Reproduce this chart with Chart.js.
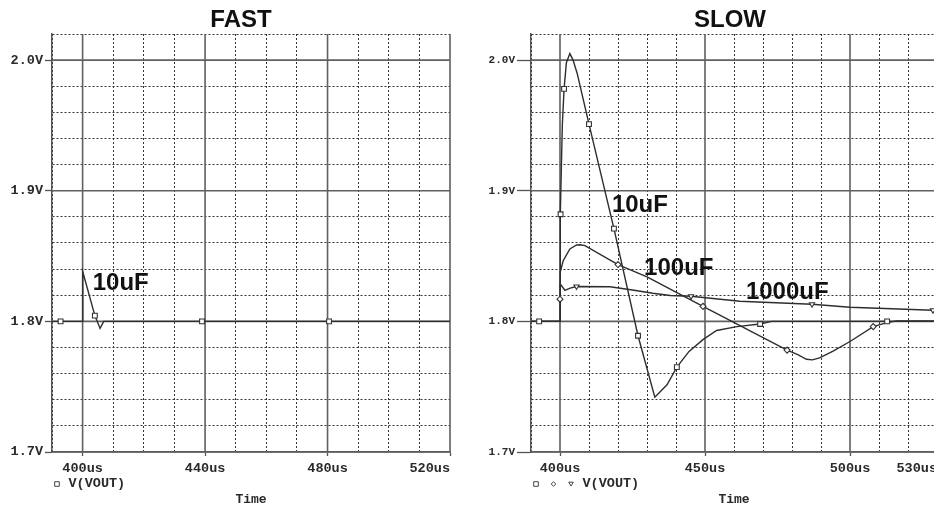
<!DOCTYPE html>
<html>
<head>
<meta charset="utf-8">
<title>FAST / SLOW</title>
<script src="https://cdn.jsdelivr.net/npm/chart.js@4.4.1/dist/chart.umd.min.js"></script>
<style>
  html, body { margin: 0; padding: 0; background: #fff; overflow: hidden; width: 934px; height: 506px; }
  canvas { position: absolute; top: 0; }
  #fastChart { left: 0; }
  #slowChart { left: 467px; }
</style>
</head>
<body>
<canvas id="fastChart" width="482" height="506"></canvas>
<canvas id="slowChart" width="526" height="506"></canvas>
<script>
// V(VOUT) traces, [time in us, volts]
const fast10uF = [[390, 1.8], [400, 1.8], [400.05, 1.838], [404.0, 1.8044], [405.7, 1.7946], [406.9, 1.8], [408.5, 1.8], [520, 1.8]];
const fast10uFMarks = [[392.8, 1.8], [404.0, 1.8044], [439.0, 1.8], [480.5, 1.8]];

const slow10uF = [[390, 1.8], [400, 1.8], [400.1, 1.882], [400.8, 1.95], [401.4, 1.978], [402.2, 1.998], [403.4, 2.005],
  [404.5, 2.0], [405.9, 1.99], [410, 1.951], [418.6, 1.871], [426.9, 1.789], [432.7, 1.742], [436.9, 1.7515],
  [440.3, 1.765], [444.5, 1.777], [449.3, 1.786], [454, 1.793], [461, 1.796], [469, 1.798], [473, 1.8], [531, 1.8]];
const slow10uFMarks = [[392.8, 1.8], [400.2, 1.882], [401.4, 1.978], [410, 1.951], [418.6, 1.871], [426.9, 1.789], [440.3, 1.765], [469, 1.798], [512.8, 1.8]];

const slow100uF = [[390, 1.8], [400, 1.8], [400.1, 1.838], [401.1, 1.8464], [403.4, 1.8554], [405.7, 1.8585], [406.9, 1.8587],
  [408.6, 1.858], [420, 1.8435], [430, 1.834], [449.3, 1.8115], [478.3, 1.778], [482, 1.7745], [485, 1.771],
  [487, 1.7705], [489.5, 1.772], [494, 1.777], [500, 1.7846], [508, 1.796], [513, 1.7992], [516, 1.8003], [531, 1.8003]];
const slow100uFMarks = [[400, 1.817], [420, 1.8435], [449.3, 1.8115], [478.3, 1.778], [508, 1.796]];

const slow1000uF = [[390, 1.8], [400, 1.8], [400.1, 1.8285], [401.7, 1.8238], [403.5, 1.8255], [405.7, 1.8267], [417.2, 1.8265],
  [425, 1.824], [432, 1.8215], [438, 1.8198], [445.2, 1.8192], [462, 1.8154], [486.9, 1.8131], [500, 1.8108], [528.6, 1.8085], [531, 1.8083]];
const slow1000uFMarks = [[405.7, 1.8267], [445.2, 1.8192], [486.9, 1.8131], [528.6, 1.8085]];

// axes
const yMajor = [1.7, 1.8, 1.9, 2.0];
const fastXMajor = [400, 440, 480, 520];
const fastXLabels = [400, 440, 480, 520];
const slowXMajor = [400, 450, 500];
const slowXLabels = [400, 450, 500, 530];

// curve names written on the plot: [text, time, volts]
const fastNotes = [['10uF', 403.3, 1.8238]];
const slowNotes = [['10uF', 417.9, 1.8838], ['100uF', 429.0, 1.8354], ['1000uF', 464.1, 1.8169]];

const MONO = '"Liberation Mono", "DejaVu Sans Mono", monospace';
const SANS = '"Liberation Sans", Arial, sans-serif';
const INK = '#2a2a2a';

const toXY = arr => arr.map(p => ({ x: p[0], y: p[1] }));
const isIn = (list, v) => list.some(m => Math.abs(m - v) < 1e-6);

function drawMarker(ctx, style, x, y, r) {
  ctx.beginPath();
  if (style === 'rect') {
    ctx.rect(x - r, y - r, 2 * r, 2 * r);
  } else if (style === 'rectRot') {
    ctx.moveTo(x, y - r); ctx.lineTo(x + r, y); ctx.lineTo(x, y + r); ctx.lineTo(x - r, y); ctx.closePath();
  } else {
    ctx.moveTo(x - r, y - r * 0.8); ctx.lineTo(x + r, y - r * 0.8); ctx.lineTo(x, y + r * 0.9); ctx.closePath();
  }
  ctx.fill();
  ctx.stroke();
}

// solid major grid lines
const majorGrid = {
  id: 'majorGrid',
  beforeDatasetsDraw(chart, args, opts) {
    const { ctx, chartArea: a, scales: { x, y } } = chart;
    ctx.save();
    ctx.strokeStyle = '#606060';
    ctx.lineWidth = 1.6;
    ctx.beginPath();
    opts.xMajor.forEach(v => {
      const p = x.getPixelForValue(v);
      ctx.moveTo(p, a.top); ctx.lineTo(p, a.bottom);
    });
    yMajor.forEach(v => {
      const p = y.getPixelForValue(v);
      ctx.moveTo(a.left, p); ctx.lineTo(a.right, p);
    });
    ctx.stroke();
    ctx.restore();
  }
};

const curveNotes = {
  id: 'curveNotes',
  afterDatasetsDraw(chart, args, opts) {
    const { ctx, scales: { x, y } } = chart;
    ctx.save();
    ctx.fillStyle = '#111';
    ctx.font = 'bold 24px ' + SANS;
    ctx.textAlign = 'left';
    ctx.textBaseline = 'alphabetic';
    opts.notes.forEach(n => ctx.fillText(n[0], x.getPixelForValue(n[1]), y.getPixelForValue(n[2])));
    ctx.restore();
  }
};

const panelTitle = {
  id: 'panelTitle',
  afterDraw(chart, args, opts) {
    const ctx = chart.ctx;
    ctx.save();
    ctx.fillStyle = '#111';
    ctx.font = 'bold 24px ' + SANS;
    ctx.textAlign = 'center';
    ctx.textBaseline = 'alphabetic';
    ctx.fillText(opts.text, chart.width / 2, 27);
    ctx.restore();
  }
};

// "□ V(VOUT)" line under the tick labels
const traceKey = {
  id: 'traceKey',
  afterDraw(chart, args, opts) {
    const { ctx, chartArea: a } = chart;
    const y = a.bottom + 32;
    let x = a.left + 5;
    ctx.save();
    ctx.strokeStyle = '#444';
    ctx.fillStyle = '#fff';
    ctx.lineWidth = 1;
    opts.markers.forEach(m => { drawMarker(ctx, m, x, y, 2.3); x += 17.5; });
    ctx.fillStyle = INK;
    ctx.font = 'bold 13.5px ' + MONO;
    ctx.textAlign = 'left';
    ctx.textBaseline = 'middle';
    ctx.fillText('V(VOUT)', x - 6, y);
    ctx.restore();
  }
};

function traceSet(points) {
  return {
    data: toXY(points), showLine: true, borderColor: '#2e2e2e', borderWidth: 1.4,
    pointRadius: 0, tension: 0, order: 2
  };
}

function markSet(points, style) {
  return {
    data: toXY(points), showLine: false, pointStyle: style,
    pointRadius: style === 'rect' ? 3.4 : 3, pointRotation: style === 'triangle' ? 180 : 0,
    pointBackgroundColor: '#fff', pointBorderColor: '#333', pointBorderWidth: 1.1, order: 1
  };
}

function makePanel(id, cfg) {
  const lastLabel = cfg.xLabels[cfg.xLabels.length - 1];
  return new Chart(document.getElementById(id), {
    type: 'scatter',
    data: { datasets: cfg.datasets },
    plugins: [majorGrid, curveNotes, panelTitle, traceKey],
    options: {
      responsive: false,
      animation: false,
      layout: { padding: { top: 34, left: 0, right: cfg.padRight, bottom: 0 } },
      plugins: {
        legend: { display: false },
        tooltip: { enabled: false },
        majorGrid: { xMajor: cfg.xMajor },
        curveNotes: { notes: cfg.notes },
        panelTitle: { text: cfg.title },
        traceKey: { markers: cfg.markers }
      },
      scales: {
        x: {
          type: 'linear', min: 390, max: cfg.xMax,
          afterFit: s => { s.height = 54; s.paddingLeft = 0; s.paddingRight = 0; },
          border: { display: true, color: '#555', width: 1.5, dash: [2, 2] },
          grid: {
            color: c => (c.tick && isIn(cfg.xMajor, c.tick.value)) ? 'rgba(0,0,0,0)' : '#333',
            lineWidth: 1,
            tickLength: 4,
            tickColor: c => (c.tick && isIn(cfg.xMajor, c.tick.value)) ? '#555' : 'rgba(0,0,0,0)',
            tickWidth: 1.3
          },
          ticks: {
            stepSize: 10, autoSkip: false, maxRotation: 0, padding: 4, color: INK,
            font: { family: MONO, size: 13.5, weight: 'bold' },
            // the end label sits left of its tick, padded with blanks
            callback: v => !isIn(cfg.xLabels, v) ? '' : (v === lastLabel ? v + 'us     ' : v + 'us')
          },
          title: {
            display: true, text: 'Time', color: INK, padding: 0,
            font: { family: MONO, size: 13, weight: 'bold', lineHeight: 1 }
          }
        },
        y: {
          type: 'linear', min: 1.7, max: 2.02,
          afterFit: s => { s.width = cfg.yWidth; s.paddingTop = 0; s.paddingBottom = 0; },
          border: { display: true, color: '#555', width: 1.5, dash: [2, 2] },
          grid: {
            color: c => (c.tick && isIn(yMajor, c.tick.value)) ? 'rgba(0,0,0,0)' : '#333',
            lineWidth: 1,
            tickLength: cfg.yTick,
            tickColor: c => (c.tick && isIn(yMajor, c.tick.value)) ? '#555' : 'rgba(0,0,0,0)',
            tickWidth: 1.3
          },
          ticks: {
            stepSize: 0.02, autoSkip: false, padding: 2, color: INK,
            font: { family: MONO, size: cfg.yFont, weight: 'bold' },
            callback: v => isIn(yMajor, v) ? v.toFixed(1) + 'V' : ''
          }
        }
      }
    }
  });
}

makePanel('fastChart', {
  title: 'FAST', xMax: 520, xMajor: fastXMajor, xLabels: fastXLabels,
  yWidth: 52, padRight: 32, yTick: 7, yFont: 13.5,
  notes: fastNotes, markers: ['rect'],
  datasets: [traceSet(fast10uF), markSet(fast10uFMarks, 'rect')]
});

makePanel('slowChart', {
  title: 'SLOW', xMax: 530, xMajor: slowXMajor, xLabels: slowXLabels,
  yWidth: 64, padRight: 56, yTick: 14, yFont: 11,
  notes: slowNotes, markers: ['rect', 'rectRot', 'triangle'],
  datasets: [
    traceSet(slow10uF), traceSet(slow100uF), traceSet(slow1000uF),
    markSet(slow10uFMarks, 'rect'), markSet(slow100uFMarks, 'rectRot'), markSet(slow1000uFMarks, 'triangle')
  ]
});
</script>
</body>
</html>
